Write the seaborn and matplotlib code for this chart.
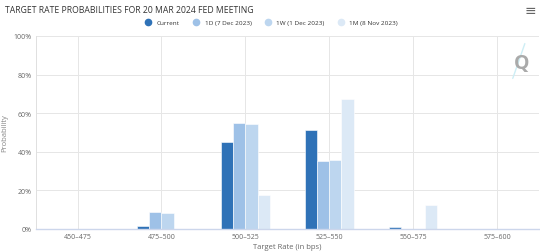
import matplotlib
matplotlib.use("Agg")
import matplotlib.pyplot as plt
import seaborn as sns
import pandas as pd
from matplotlib.lines import Line2D

categories = ["450–475", "475–500", "500–525", "525–550", "550–575", "575–600"]
current = [0.0, 1.7, 45.2, 51.2, 0.9, 0.0]
d1 = [0.0, 8.8, 55.0, 35.0, 0.0, 0.0]
w1 = [0.0, 8.1, 54.6, 35.9, 0.0, 0.0]
m1 = [0.0, 0.0, 17.7, 67.5, 12.5, 0.0]
series_names = ["Current", "1D (7 Dec 2023)", "1W (1 Dec 2023)", "1M (8 Nov 2023)"]
colors = ["#2f72b7", "#9ec1e7", "#bdd6ef", "#dce9f6"]

rows = []
for name, vals in zip(series_names, [current, d1, w1, m1]):
    for c, v in zip(categories, vals):
        rows.append({"Target": c, "Series": name, "Prob": v})
df = pd.DataFrame(rows)

sns.set_theme(style="white")
plt.rcParams["font.family"] = ["Open Sans", "DejaVu Sans"]

fig = plt.figure(figsize=(5.4, 2.53), dpi=100)
ax = fig.add_axes([0.066, 0.091, 0.932, 0.763])

sns.barplot(data=df, x="Target", y="Prob", hue="Series", hue_order=series_names,
            palette=colors, width=0.58, ax=ax, legend=False,
            edgecolor="white", linewidth=0.4, saturation=1)

ax.set_ylim(0, 100)
ax.set_xlim(-0.5, len(categories) - 0.5)
ax.set_yticks([0, 20, 40, 60, 80, 100])
ax.set_yticklabels([f"{t}%" for t in [0, 20, 40, 60, 80, 100]])
ax.grid(True, color="#e6e6e6", linewidth=0.7)
ax.set_axisbelow(True)
for s in ["top", "right"]:
    ax.spines[s].set_visible(False)
ax.spines["left"].set_color("#e0e0e0")
ax.spines["left"].set_linewidth(0.7)
ax.spines["bottom"].set_color("#ccd6eb")
ax.spines["bottom"].set_linewidth(1.0)
ax.tick_params(axis="both", labelsize=5, colors="#666666", length=0, pad=3)
ax.set_xlabel("Target Rate (in bps)", fontsize=5.5, color="#666666", labelpad=2)
ax.set_ylabel("Probability", fontsize=5.5, color="#888888")
ax.yaxis.set_label_coords(-0.055, 0.5)

fig.text(0.009, 0.958, "TARGET RATE PROBABILITIES FOR 20 MAR 2024 FED MEETING",
         fontsize=6.2, color="#333333", va="center", ha="left")
fig.text(0.983, 0.955, "≡", fontsize=10, color="#666666", va="center", ha="center",
         family=["DejaVu Sans"])

handles = [Line2D([], [], marker="o", linestyle="", markersize=4.5,
                  markerfacecolor=c, markeredgecolor=c) for c in colors]
fig.legend(handles, series_names, loc="center", bbox_to_anchor=(0.5, 0.908),
           ncol=4, frameon=False, fontsize=4.6, handletextpad=0.3,
           columnspacing=1.6, labelcolor="#333333")

ax.text(0.966, 0.86, "Q", transform=ax.transAxes, fontsize=14, color="#aaaaaa",
        ha="center", va="center", fontweight="bold")
ax.plot([0.948, 0.972], [0.78, 0.96], transform=ax.transAxes, color="#cdeef5",
        linewidth=1.0)

fig.savefig("out.png", dpi=100)
